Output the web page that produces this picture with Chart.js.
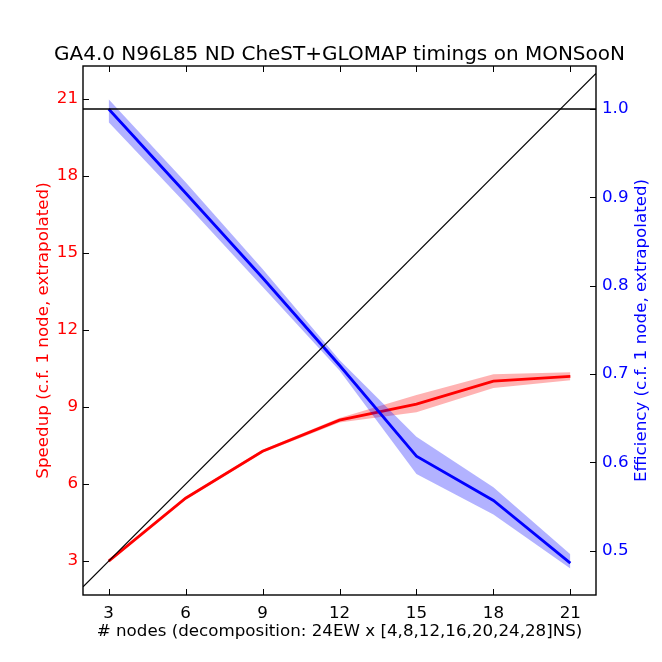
<!DOCTYPE html>
<html>
<head>
<meta charset="utf-8">
<script src="https://cdn.jsdelivr.net/npm/chart.js@4"></script>
<style>
  html, body { margin: 0; padding: 0; background: #fff; }
  #wrap { width: 662px; height: 662px; }
</style>
</head>
<body>
<div id="wrap"><canvas id="chart" width="662" height="662"></canvas></div>
<script>
  // ── Data ────────────────────────────────────────────────────────────
  var nodes       = [3, 6, 9, 12, 15, 18, 21];
  var speedup     = [3.0, 5.45, 7.28, 8.49, 9.12, 10.01, 10.2];
  var speedupLo   = [2.98, 5.40, 7.22, 8.40, 8.80, 9.74, 10.05];
  var speedupHi   = [3.02, 5.50, 7.34, 8.58, 9.47, 10.28, 10.36];
  var efficiency  = [1.0, 0.905, 0.809, 0.710, 0.607, 0.557, 0.486];
  var effLo       = [0.985, 0.893, 0.799, 0.704, 0.587, 0.541, 0.480];
  var effHi       = [1.011, 0.917, 0.819, 0.716, 0.629, 0.572, 0.496];
  var idealX      = [2, 22];
  var xTicks      = [3, 6, 9, 12, 15, 18, 21];
  var speedTicks  = [3, 6, 9, 12, 15, 18, 21];
  var effTicks    = [0.5, 0.6, 0.7, 0.8, 0.9, 1.0];

  var FONT = 'DejaVu Sans, Arial, sans-serif';
  var FS = 16.7;

  function pts(xs, ys) {
    return xs.map(function (x, i) { return { x: x, y: ys[i] }; });
  }

  function fixTicks(list) {
    return function (scale) {
      scale.ticks = list.map(function (v) { return { value: v }; });
    };
  }

  // frame, inward ticks and axis texts, matplotlib style
  var decor = {
    id: 'decor',
    afterDraw: function (chart) {
      var ctx = chart.ctx, a = chart.chartArea;
      var sx = chart.scales.x, sy = chart.scales.y, sy1 = chart.scales.y1;
      var L = 6;
      ctx.save();
      ctx.strokeStyle = '#000';
      ctx.lineWidth = 1;
      ctx.beginPath();
      xTicks.forEach(function (v) {
        var px = Math.round(sx.getPixelForValue(v)) + 0.5;
        ctx.moveTo(px, a.bottom); ctx.lineTo(px, a.bottom - L);
        ctx.moveTo(px, a.top);    ctx.lineTo(px, a.top + L);
      });
      speedTicks.forEach(function (v) {
        var py = Math.round(sy.getPixelForValue(v)) + 0.5;
        ctx.moveTo(a.left, py); ctx.lineTo(a.left + L, py);
      });
      effTicks.forEach(function (v) {
        var py = Math.round(sy1.getPixelForValue(v)) + 0.5;
        ctx.moveTo(a.right, py); ctx.lineTo(a.right - L, py);
      });
      ctx.stroke();
      ctx.lineWidth = 1.4;
      ctx.strokeRect(a.left, a.top, a.right - a.left, a.bottom - a.top);

      var cx = (a.left + a.right) / 2, cy = (a.top + a.bottom) / 2;
      ctx.textAlign = 'center';
      ctx.textBaseline = 'alphabetic';
      ctx.fillStyle = '#000';
      ctx.font = '20px ' + FONT;
      ctx.fillText('GA4.0 N96L85 ND CheST+GLOMAP timings on MONSooN', cx, 60);
      ctx.font = FS + 'px ' + FONT;
      ctx.fillText('# nodes (decomposition: 24EW x [4,8,12,16,20,24,28]NS)', cx, 636);

      ctx.save();
      ctx.translate(48, cy);
      ctx.rotate(-Math.PI / 2);
      ctx.fillStyle = '#ff0000';
      ctx.fillText('Speedup (c.f. 1 node, extrapolated)', 0, 0);
      ctx.restore();

      ctx.save();
      ctx.translate(646, cy);
      ctx.rotate(-Math.PI / 2);
      ctx.fillStyle = '#0000ff';
      ctx.fillText('Efficiency (c.f. 1 node, extrapolated)', 0, 0);
      ctx.restore();
      ctx.restore();
    }
  };

  var noPts = { pointRadius: 0, pointHoverRadius: 0 };

  function line(opts) {
    return Object.assign({ type: 'line', tension: 0, fill: false }, noPts, opts);
  }

  function axis(extra) {
    return Object.assign({
      type: 'linear',
      grid: { display: false, drawTicks: false },
      border: { display: false }
    }, extra);
  }

  new Chart(document.getElementById('chart'), {
    data: {
      datasets: [
        // ideal speedup y = x
        line({ data: pts(idealX, idealX), yAxisID: 'y', borderColor: '#000', borderWidth: 1.2, order: 1 }),
        // efficiency = 1
        line({ data: pts(idealX, [1, 1]), yAxisID: 'y1', borderColor: '#000', borderWidth: 1.4, order: 1 }),
        // efficiency band + line
        line({ data: pts(nodes, efficiency), yAxisID: 'y1', borderColor: '#0000ff', borderWidth: 2.8, order: 2 }),
        line({ data: pts(nodes, effHi), yAxisID: 'y1', borderWidth: 0, borderColor: 'rgba(0,0,0,0)',
               fill: '+1', backgroundColor: 'rgba(0,0,255,0.3)', order: 3 }),
        line({ data: pts(nodes, effLo), yAxisID: 'y1', borderWidth: 0, borderColor: 'rgba(0,0,0,0)', order: 3 }),
        // speedup band + line
        line({ data: pts(nodes, speedup), yAxisID: 'y', borderColor: '#ff0000', borderWidth: 2.8, order: 4 }),
        line({ data: pts(nodes, speedupHi), yAxisID: 'y', borderWidth: 0, borderColor: 'rgba(0,0,0,0)',
               fill: '+1', backgroundColor: 'rgba(255,0,0,0.3)', order: 5 }),
        line({ data: pts(nodes, speedupLo), yAxisID: 'y', borderWidth: 0, borderColor: 'rgba(0,0,0,0)', order: 5 })
      ]
    },
    options: {
      responsive: false,
      animation: false,
      events: [],
      layout: { padding: { top: 66, left: 0, right: 0, bottom: 0 } },
      plugins: { legend: { display: false }, title: { display: false }, tooltip: { enabled: false } },
      scales: {
        x: axis({
          min: 2, max: 22,
          afterBuildTicks: fixTicks(xTicks),
          afterFit: function (s) { s.height = 67; },
          ticks: { color: '#000', padding: 9, font: { family: FONT, size: FS } }
        }),
        y: axis({
          position: 'left', min: 1.68, max: 22.29,
          afterBuildTicks: fixTicks(speedTicks),
          afterFit: function (s) { s.width = 83; },
          ticks: { color: '#ff0000', padding: 5, font: { family: FONT, size: FS } }
        }),
        y1: axis({
          position: 'right', min: 0.450, max: 1.0487,
          afterBuildTicks: fixTicks(effTicks),
          afterFit: function (s) { s.width = 66; },
          ticks: { color: '#0000ff', padding: 6, font: { family: FONT, size: FS },
                   callback: function (v) { return v.toFixed(1); } }
        })
      }
    },
    plugins: [decor]
  });
</script>
</body>
</html>
